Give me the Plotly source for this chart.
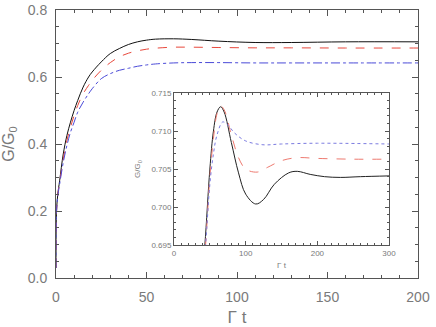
import plotly.graph_objects as go

# main panel: conductance vs time
t_main = [0, 0.3, 1, 2, 4, 6, 8, 10, 12, 15, 18, 20, 25, 30, 35, 40, 45, 50, 55,
          65, 75, 90, 110, 130, 160, 200]
g_black = [0.03, 0.20, 0.25, 0.29, 0.37, 0.425, 0.465, 0.50, 0.53, 0.57, 0.60, 0.615,
           0.645, 0.67, 0.685, 0.697, 0.705, 0.710, 0.713, 0.714, 0.712, 0.707,
           0.703, 0.703, 0.705, 0.705]
g_red = [0.03, 0.20, 0.25, 0.285, 0.355, 0.41, 0.45, 0.485, 0.515, 0.55, 0.575, 0.59,
         0.62, 0.643, 0.66, 0.671, 0.678, 0.683, 0.686, 0.689, 0.689, 0.688,
         0.687, 0.687, 0.6865, 0.6865]
g_blue = [0.03, 0.20, 0.245, 0.28, 0.345, 0.395, 0.435, 0.465, 0.495, 0.525, 0.55, 0.565,
          0.595, 0.61, 0.62, 0.626, 0.632, 0.636, 0.639, 0.642, 0.643, 0.643,
          0.642, 0.642, 0.642, 0.642]

# inset: zoom on the overshoot
t_in_black = [38, 43, 50, 55, 60, 65, 70, 80, 90, 100, 114, 125, 140, 160, 172,
              190, 210, 232, 260, 300]
g_in_black = [0.690, 0.695, 0.705, 0.710, 0.7125, 0.7132, 0.7125, 0.7085, 0.7045,
              0.7017, 0.7004, 0.7010, 0.7030, 0.7045, 0.7047, 0.7043, 0.7040,
              0.7039, 0.7040, 0.7041]
t_in_red = [39, 44, 50, 55, 60, 65, 70, 80, 90, 100, 116, 130, 150, 172, 200, 250, 300]
g_in_red = [0.690, 0.695, 0.704, 0.709, 0.7123, 0.7133, 0.7128, 0.7095, 0.7065,
            0.7050, 0.7046, 0.7052, 0.7061, 0.7065, 0.7064, 0.7063, 0.7063]
t_in_blue = [39, 44, 50, 55, 60, 68, 75, 85, 100, 124, 150, 200, 300]
g_in_blue = [0.690, 0.695, 0.703, 0.707, 0.7095, 0.7112, 0.7108, 0.7097, 0.7087,
             0.7082, 0.7083, 0.7084, 0.7083]

AX = '#555555'
LBL = '#7a7a7a'
FONT = 'Liberation Sans'

fig = go.Figure()
fig.add_trace(go.Scatter(x=t_main, y=g_black, mode='lines',
                         line=dict(color='#111111', width=1, shape='spline')))
fig.add_trace(go.Scatter(x=t_main, y=g_red, mode='lines',
                         line=dict(color='#e8483c', width=1, dash='dash', shape='spline')))
fig.add_trace(go.Scatter(x=t_main, y=g_blue, mode='lines',
                         line=dict(color='#4a4ad8', width=1, dash='dashdot', shape='spline')))

fig.add_trace(go.Scatter(x=t_in_black, y=g_in_black, mode='lines', xaxis='x2', yaxis='y2',
                         line=dict(color='#222222', width=1, shape='spline')))
fig.add_trace(go.Scatter(x=t_in_red, y=g_in_red, mode='lines', xaxis='x2', yaxis='y2',
                         line=dict(color='#ee7a70', width=1, dash='dash', shape='spline')))
fig.add_trace(go.Scatter(x=t_in_blue, y=g_in_blue, mode='lines', xaxis='x2', yaxis='y2',
                         line=dict(color='#7a7ae0', width=1, dash='dot', shape='spline')))

main_axis = dict(showgrid=False, zeroline=False, showline=True, linecolor=AX, linewidth=1,
                 mirror='ticks', ticks='inside', tickcolor=AX, ticklen=6, automargin=False,
                 tickfont=dict(family=FONT, size=14, color=LBL))
inset_axis = dict(showgrid=False, zeroline=False, showline=True, linecolor=AX, linewidth=1,
                  mirror='ticks', ticks='inside', tickcolor=AX, ticklen=4, automargin=False,
                  tickfont=dict(family=FONT, size=8, color=LBL), ticklabelstandoff=0)

fig.update_layout(
    width=436, height=327,
    margin=dict(l=56, r=18, t=10, b=49, autoexpand=False),
    paper_bgcolor='white', plot_bgcolor='white',
    showlegend=False,
    xaxis=dict(main_axis, range=[0, 200], dtick=50, domain=[0, 1],
               minor=dict(dtick=10, ticklen=3, ticks='inside', tickcolor=AX),
               ticklabelstandoff=6,
               title=dict(text='\u0393 t', font=dict(family=FONT, size=17, color=LBL))),
    yaxis=dict(main_axis, range=[0, 0.8], dtick=0.2, tickformat='.1f', domain=[0, 1],
               minor=dict(dtick=0.05, ticklen=3, ticks='inside', tickcolor=AX),
               ticklabelstandoff=5,
               title=dict(text='G/G<sub>0</sub>', font=dict(family=FONT, size=16, color=LBL))),
    xaxis2=dict(inset_axis, range=[0, 300], dtick=100, domain=[0.326, 0.920], anchor='y2',
                minor=dict(dtick=10, ticklen=2, ticks='inside', tickcolor=AX)),
    yaxis2=dict(inset_axis, range=[0.695, 0.715], dtick=0.005, tickformat='.3f',
                domain=[0.123, 0.690], anchor='x2',
                minor=dict(dtick=0.001, ticklen=2, ticks='inside', tickcolor=AX)),
)

# inset axis titles
fig.add_annotation(text='\u0393 t', xref='paper', yref='paper', x=0.624, y=0.045,
                   xanchor='center', yanchor='middle',
                   showarrow=False, font=dict(family=FONT, size=8, color=LBL))
fig.add_annotation(text='G/G<sub>0</sub>', xref='paper', yref='paper', x=0.2265, y=0.407,
                   xanchor='center', yanchor='middle',
                   textangle=-90, showarrow=False, font=dict(family=FONT, size=8, color=LBL))

fig.write_html("out.html", config={'displayModeBar': False},
               post_script="document.body.style.margin='0';")
